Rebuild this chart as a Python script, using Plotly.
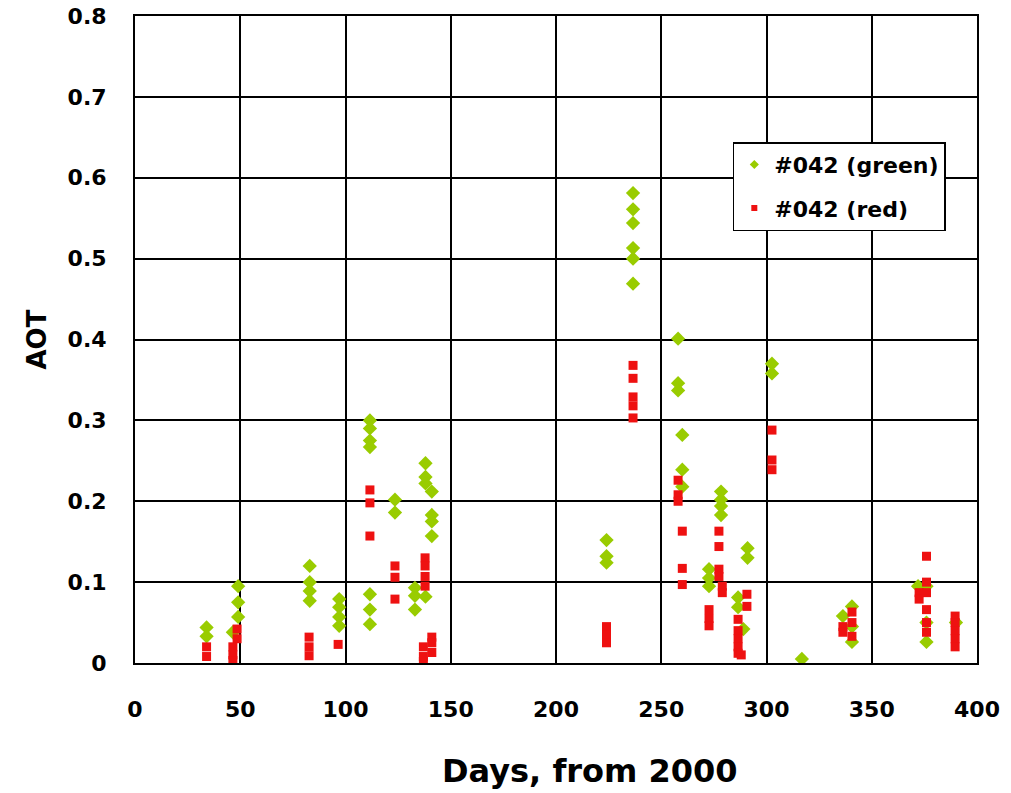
import plotly.graph_objects as go

# Series "#042 (green)"
green_day = [34, 34,
             49, 49, 49, 46.5,
             83, 83, 83, 83,
             97, 97, 97, 97,
             111.6, 111.6, 111.6, 111.6, 111.6, 111.6, 111.6,
             123.5, 123.5,
             133, 133, 133,
             138, 138, 138, 138,
             141, 141, 141, 141,
             224, 224, 224,
             236.6, 236.6, 236.6, 236.6, 236.6, 236.6,
             258, 258, 258,
             260, 260, 260,
             272.7, 272.7, 272.7,
             278.4, 278.4, 278.4, 278.4,
             286.5, 286.5, 289,
             291, 291,
             302.6, 302.6,
             316.8,
             336.3,
             340.6, 340.6, 340.6,
             372,
             376, 376, 376,
             390]
green_aot = [0.044, 0.033,
             0.095, 0.075, 0.057, 0.038,
             0.12, 0.10, 0.089, 0.077,
             0.079, 0.069, 0.057, 0.046,
             0.30, 0.29, 0.275, 0.267, 0.085, 0.066, 0.048,
             0.202, 0.186,
             0.093, 0.083, 0.066,
             0.247, 0.23, 0.222, 0.082,
             0.212, 0.183, 0.175, 0.157,
             0.152, 0.132, 0.124,
             0.581, 0.561, 0.544, 0.513, 0.50, 0.469,
             0.401, 0.346, 0.337,
             0.282, 0.239, 0.218,
             0.116, 0.105, 0.095,
             0.212, 0.202, 0.194, 0.183,
             0.081, 0.069, 0.042,
             0.142, 0.13,
             0.37, 0.358,
             0.005,
             0.058,
             0.07, 0.045, 0.026,
             0.095,
             0.095, 0.05, 0.026,
             0.05]

# Series "#042 (red)"
red_day = [34, 34,
           48.5, 48.5, 46.5, 46.5, 46.5,
           82.7, 82.7, 82.7,
           96.5,
           111.6, 111.6, 111.6,
           123.5, 123.5, 123.5,
           137.8, 137.8, 137.8, 137.8,
           141, 141, 141,
           137, 137, 137,
           224, 224, 224,
           236.6, 236.6, 236.6, 236.6, 236.6,
           258, 258, 258,
           260, 260, 260,
           272.7, 272.7, 272.7,
           277.4, 277.4, 277.4, 277.4, 279, 279,
           286.5, 286.5, 286.5, 286.5, 286.5, 288,
           290.7, 290.7,
           302.6, 302.6, 302.6,
           336.3, 336.3,
           340.6, 340.6, 340.6,
           372.5, 372.5,
           376, 376, 376, 376, 376, 376,
           389.6, 389.6, 389.6, 389.6, 389.6]
red_aot = [0.02, 0.008,
           0.042, 0.03, 0.02, 0.01, 0.003,
           0.032, 0.02, 0.009,
           0.023,
           0.214, 0.198, 0.157,
           0.12, 0.106, 0.079,
           0.13, 0.12, 0.107, 0.095,
           0.032, 0.025, 0.013,
           0.02, 0.008, 0.002,
           0.045, 0.035, 0.025,
           0.368, 0.352, 0.329, 0.318, 0.303,
           0.226, 0.208, 0.20,
           0.163, 0.117, 0.097,
           0.066, 0.055, 0.046,
           0.163, 0.144, 0.116, 0.107, 0.095, 0.087,
           0.054, 0.04, 0.03, 0.02, 0.012, 0.01,
           0.085, 0.07,
           0.288, 0.251, 0.239,
           0.045, 0.038,
           0.063, 0.05, 0.033,
           0.087, 0.079,
           0.132, 0.10, 0.087, 0.066, 0.05, 0.038,
           0.058, 0.05, 0.04, 0.03, 0.02]

series_names = ["#042 (green)", "#042 (red)"]
x_ticks = [0, 50, 100, 150, 200, 250, 300, 350, 400]
y_ticks = [0, 0.1, 0.2, 0.3, 0.4, 0.5, 0.6, 0.7, 0.8]
y_tick_text = ["0", "0.1", "0.2", "0.3", "0.4", "0.5", "0.6", "0.7", "0.8"]
x_title = "Days, from 2000"
y_title = "AOT"

GREEN = "#99CC00"
RED = "#EE1111"
FONT = "DejaVu Sans, sans-serif"

fig = go.Figure()
fig.add_trace(go.Scatter(x=green_day, y=green_aot, mode="markers", showlegend=False,
                         marker=dict(symbol="diamond", size=11, color=GREEN)))
fig.add_trace(go.Scatter(x=red_day, y=red_aot, mode="markers", showlegend=False,
                         marker=dict(symbol="square", size=9, color=RED)))
# legend entries (smaller symbols as in the reference)
fig.add_trace(go.Scatter(x=[None], y=[None], mode="markers", name=series_names[0],
                         legendgroup="g", marker=dict(symbol="diamond", size=7, color=GREEN)))
fig.add_trace(go.Scatter(x=[None], y=[None], mode="markers", name=series_names[1],
                         legendgroup="r", marker=dict(symbol="square", size=6, color=RED)))

axis_common = dict(showgrid=True, gridcolor="black", gridwidth=2,
                   showline=True, linecolor="black", linewidth=2, mirror=True,
                   zeroline=False, ticks="", automargin=False,
                   ticklabeloverflow="allow")

fig.update_xaxes(range=[0, 400], tickvals=x_ticks, **axis_common,
                 tickfont=dict(family=FONT, size=22, color="black", weight="bold"),
                 ticklabelstandoff=26)
fig.update_yaxes(range=[0, 0.8], tickvals=y_ticks, ticktext=y_tick_text, **axis_common,
                 tickfont=dict(family=FONT, size=22, color="black", weight="bold"),
                 ticklabelstandoff=22,
                 title=dict(text=y_title, standoff=14,
                            font=dict(family=FONT, size=26, color="black", weight="bold")))

# x-axis title (sits right of the plot centre in the reference)
fig.add_annotation(text=x_title, xref="paper", yref="paper", x=0.54, y=0,
                   xanchor="center", yanchor="middle", yshift=-108, showarrow=False,
                   font=dict(family=FONT, size=32, color="black", weight="bold"))

fig.update_layout(
    width=1011, height=793,
    margin=dict(l=135, r=34, t=16, b=130),
    paper_bgcolor="white", plot_bgcolor="white",
    legend=dict(x=0.71, y=0.805, xanchor="left", yanchor="top",
                bgcolor="white", bordercolor="black", borderwidth=1.5,
                font=dict(family=FONT, size=22, color="black", weight="bold"),
                itemwidth=30, tracegroupgap=12),
)

fig.write_html("out.html")
